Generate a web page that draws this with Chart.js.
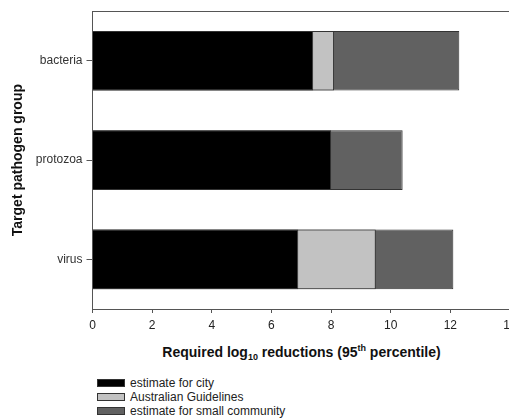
<!DOCTYPE html>
<html>
<head>
<meta charset="utf-8">
<script src="https://cdn.jsdelivr.net/npm/chart.js@4"></script>
<style>
  html, body { margin: 0; padding: 0; background: #fff; overflow: hidden; width: 509px; height: 420px; }
  #wrap { position: absolute; left: 0; top: 0; width: 540px; height: 340px; }
  #xTitle {
    position: absolute; left: 0; width: 603px; top: 343px; text-align: center;
    font: bold 14px "Liberation Sans", Arial, sans-serif; color: #111;
  }
  #xTitle sub, #xTitle sup { font-size: 9px; }
  #legend { position: absolute; left: 97px; top: 376px; font: 12px "Liberation Sans", Arial, sans-serif; color: #222; }
  .row { height: 14px; line-height: 12px; display: flex; align-items: center; }
  .box { width: 28px; height: 8px; border: 1px solid #333; margin-right: 5px; box-sizing: border-box; }
</style>
</head>
<body>
<div id="wrap"><canvas id="chart" width="540" height="340"></canvas></div>
<div id="xTitle">Required log<sub>10</sub> reductions (95<sup>th</sup> percentile)</div>
<div id="legend"></div>
<script>
const categories = ['bacteria', 'protozoa', 'virus'];
const cityValues = [7.4, 8.0, 6.9];
const guidelineValues = [8.1, null, 9.5];
const smallCommunityValues = [12.3, 10.4, 12.1];
const seriesNames = ['estimate for city', 'Australian Guidelines', 'estimate for small community'];
const seriesColors = ['#000000', '#c2c2c2', '#616161'];

// top frame line
const topLine = {
    id: 'topLine',
    afterDraw(chart) {
        const ctx = chart.ctx;
        const area = chart.chartArea;
        ctx.save();
        ctx.strokeStyle = '#555';
        ctx.lineWidth = 1;
        ctx.beginPath();
        ctx.moveTo(area.left, Math.round(area.top) + 0.5);
        ctx.lineTo(chart.width, Math.round(area.top) + 0.5);
        ctx.stroke();
        ctx.restore();
    }
};

const ctx = document.getElementById('chart').getContext('2d');
new Chart(ctx, {
    type: 'bar',
    data: {
        labels: categories,
        datasets: [
            { label: seriesNames[0], data: cityValues, backgroundColor: seriesColors[0] },
            { label: seriesNames[1], data: guidelineValues, backgroundColor: seriesColors[1] },
            { label: seriesNames[2], data: smallCommunityValues, backgroundColor: seriesColors[2] }
        ]
    },
    options: {
        indexAxis: 'y',
        responsive: false,
        animation: false,
        devicePixelRatio: 1,
        layout: { padding: { top: 8, right: 30, left: 0, bottom: 0 } },
        datasets: {
            bar: {
                categoryPercentage: 1,
                barPercentage: 0.6,
                borderWidth: 1,
                borderColor: '#333',
                borderSkipped: 'start'
            }
        },
        plugins: {
            legend: { display: false },
            tooltip: { enabled: false }
        },
        scales: {
            x: {
                min: 0,
                max: 14,
                stacked: false,
                ticks: {
                    stepSize: 2,
                    color: '#222',
                    padding: 5,
                    font: { family: '"Liberation Sans", Arial, sans-serif', size: 12 }
                },
                grid: { drawOnChartArea: false, drawTicks: true, tickLength: 4, color: '#555' },
                border: { color: '#555' },
                afterFit(scale) { scale.height = 31; }
            },
            y: {
                stacked: true,
                ticks: {
                    color: '#333',
                    padding: 4,
                    font: { family: '"Liberation Sans", Arial, sans-serif', size: 12 }
                },
                grid: { offset: false, drawOnChartArea: false, drawTicks: true, tickLength: 6, color: '#555' },
                border: { color: '#555' },
                title: {
                    display: true,
                    text: 'Target pathogen group',
                    color: '#111',
                    padding: { top: 10, bottom: 0 },
                    font: { family: '"Liberation Sans", Arial, sans-serif', size: 14, weight: 'bold' }
                },
                afterFit(scale) { scale.width = 92.5; }
            }
        }
    },
    plugins: [topLine]
});

const legend = document.getElementById('legend');
seriesNames.forEach((name, i) => {
    const row = document.createElement('div');
    row.className = 'row';
    row.innerHTML = `<span class="box" style="background:${seriesColors[i]}"></span><span>${name}</span>`;
    legend.appendChild(row);
});
</script>
</body>
</html>
